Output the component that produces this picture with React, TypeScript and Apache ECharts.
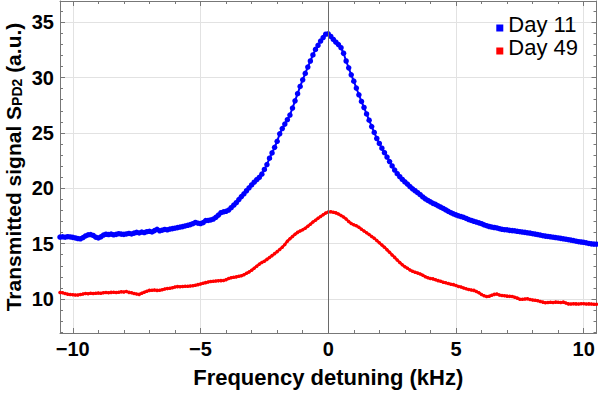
import React, { useEffect, useRef } from "react";
import * as echarts from "echarts";

// Sampling grid of the measurement (kHz)
const detuningStart = -10.5;
const detuningStep = 0.1;

// Day 11 transmitted signal (a.u.), one value per 0.1 kHz from -10.5 to 10.5
const day11: number[] = [
  15.60, 15.62, 15.58, 15.63, 15.61,
  15.57, 15.52, 15.46, 15.44, 15.55, 15.70, 15.80, 15.82, 15.74, 15.58,
  15.52, 15.62, 15.78, 15.85, 15.82, 15.86, 15.80, 15.84, 15.90, 15.86,
  15.84, 15.88, 15.92, 15.88, 15.95, 16.02, 15.97, 16.05, 16.00, 16.08,
  16.12, 16.06, 16.18, 16.30, 16.16, 16.22, 16.28, 16.25, 16.32, 16.36,
  16.40, 16.45, 16.50, 16.54, 16.60, 16.66, 16.72, 16.80, 16.92, 16.85,
  16.82, 16.90, 17.08, 17.10, 17.14, 17.22, 17.38, 17.58, 17.80, 17.88,
  17.92, 18.04, 18.25, 18.48, 18.70, 18.98, 19.25, 19.50, 19.78, 20.05,
  20.30, 20.55, 20.78, 20.98, 21.28, 21.70, 22.15, 22.72, 23.20, 23.70,
  24.25, 24.92, 25.40, 25.80, 26.20, 26.62, 27.25, 27.90, 28.55, 29.20,
  29.80, 30.38, 30.95, 31.50, 32.05, 32.55, 32.92, 33.30, 33.62, 33.92,
  33.95, 33.72, 33.45, 33.20, 32.98, 32.70, 32.20, 31.50, 30.88, 30.25,
  29.68, 29.05, 28.45, 27.85, 27.30, 26.72, 26.15, 25.58, 25.05, 24.50,
  24.05, 23.62, 23.22, 22.82, 22.42, 22.02, 21.65, 21.32, 21.05, 20.80,
  20.58, 20.38, 20.15, 19.95, 19.78, 19.60, 19.42, 19.22, 19.05, 18.90,
  18.78, 18.64, 18.55, 18.42, 18.30, 18.18, 18.05, 17.92, 17.80, 17.70,
  17.60, 17.52, 17.45, 17.38, 17.28, 17.18, 17.10, 17.02, 16.95, 16.88,
  16.80, 16.70, 16.62, 16.55, 16.50, 16.46, 16.42, 16.35, 16.30, 16.26,
  16.25, 16.20, 16.18, 16.16, 16.12, 16.08, 16.05, 16.02, 15.98, 15.95,
  15.90, 15.86, 15.82, 15.78, 15.72, 15.68, 15.65, 15.62, 15.58, 15.55,
  15.52, 15.48, 15.44, 15.40, 15.36, 15.32, 15.28, 15.22, 15.18, 15.15,
  15.12, 15.08, 15.02, 14.98, 14.96, 14.95,
];

// Day 49 transmitted signal (a.u.)
const day49: number[] = [
  10.58, 10.56, 10.50, 10.44, 10.40,
  10.38, 10.36, 10.37, 10.40, 10.46, 10.50, 10.48, 10.52, 10.50, 10.53,
  10.55, 10.52, 10.56, 10.58, 10.56, 10.60, 10.62, 10.58, 10.62, 10.66,
  10.64, 10.67, 10.60, 10.56, 10.50, 10.45, 10.42, 10.52, 10.62, 10.70,
  10.78, 10.80, 10.82, 10.78, 10.80, 10.84, 10.90, 10.94, 10.97, 11.02,
  11.08, 11.12, 11.10, 11.14, 11.16, 11.15, 11.18, 11.20, 11.24, 11.30,
  11.36, 11.42, 11.48, 11.54, 11.58, 11.60, 11.62, 11.64, 11.66, 11.68,
  11.75, 11.85, 11.92, 11.96, 12.00, 12.05, 12.10, 12.20, 12.32, 12.45,
  12.60, 12.78, 12.96, 13.15, 13.30, 13.42, 13.58, 13.75, 13.92, 14.10,
  14.28, 14.48, 14.68, 14.92, 15.22, 15.45, 15.65, 15.85, 16.02, 16.15,
  16.25, 16.40, 16.58, 16.76, 16.95, 17.12, 17.30, 17.46, 17.62, 17.76,
  17.86, 17.88, 17.84, 17.78, 17.68, 17.55, 17.40, 17.22, 17.00, 16.82,
  16.70, 16.62, 16.48, 16.30, 16.15, 15.98, 15.82, 15.65, 15.48, 15.28,
  15.08, 14.88, 14.68, 14.45, 14.22, 13.98, 13.76, 13.52, 13.30, 13.10,
  12.92, 12.78, 12.62, 12.50, 12.42, 12.34, 12.26, 12.15, 12.02, 11.92,
  11.86, 11.82, 11.74, 11.66, 11.60, 11.52, 11.46, 11.40, 11.34, 11.30,
  11.22, 11.14, 11.08, 11.00, 10.92, 10.85, 10.82, 10.78, 10.68, 10.56,
  10.40, 10.30, 10.22, 10.25, 10.34, 10.42, 10.45, 10.36, 10.32, 10.30,
  10.26, 10.24, 10.22, 10.16, 10.08, 9.98, 9.98, 10.00, 10.02, 9.96,
  9.92, 9.88, 9.85, 9.78, 9.72, 9.66, 9.68, 9.70, 9.68, 9.72,
  9.70, 9.68, 9.72, 9.64, 9.56, 9.54, 9.58, 9.56, 9.55, 9.58,
  9.57, 9.54, 9.56, 9.55, 9.52, 9.52,
];

const seriesNames = ["Day 11", "Day 49"];

// Axis ranges and ticks
const xRange = [-10.5, 10.5];
const yRange = [6.93, 36.92];
const xMajorTicks = [-10, -5, 0, 5, 10];
const xMinorTicks = [-9, -8, -7, -6, -4, -3, -2, -1, 1, 2, 3, 4, 6, 7, 8, 9];
const yMajorTicks = [10, 15, 20, 25, 30, 35];
const yMinorTicks = [7, 8, 9, 11, 12, 13, 14, 16, 17, 18, 19, 21, 22, 23, 24, 26, 27, 28, 29, 31, 32, 33, 34, 36];

const FONT = "'Liberation Sans', Arial, sans-serif";
const FRAME = "#777777";
const GRID = "#e2e2e2";

function toPairs(vals: number[]): [number, number][] {
  return vals.map((v, i) => [
    Math.round((detuningStart + i * detuningStep) * 100) / 100,
    v,
  ]);
}

function fmtNum(v: number): string {
  return (v < 0 ? "\u2212" : "") + String(Math.abs(v));
}

export default function App() {
  const ref = useRef<HTMLDivElement>(null);

  useEffect(() => {
    if (!ref.current) return;
    const chart = echarts.init(ref.current, undefined, { renderer: "svg" });

    const labelStyle = {
      fontSize: 20,
      fontWeight: "bold" as const,
      color: "#000",
      fontFamily: FONT,
    };

    const xAxisBase = (position: "bottom" | "top", major: boolean, main: boolean) => ({
      type: "value",
      position,
      min: xRange[0],
      max: xRange[1],
      axisLine: { show: major, onZero: false, lineStyle: { color: FRAME, width: 1 } },
      axisTick: {
        show: true,
        inside: true,
        length: major ? 5 : 3,
        customValues: major ? xMajorTicks : xMinorTicks,
        lineStyle: { color: FRAME, width: 1 },
      },
      axisLabel: main
        ? {
            show: true,
            customValues: xMajorTicks,
            formatter: (v: number) => fmtNum(v),
            margin: 6,
            ...labelStyle,
          }
        : { show: false },
      splitLine: main ? { show: true, lineStyle: { color: GRID, width: 1 } } : { show: false },
      ...(main
        ? {
            name: "Frequency detuning (kHz)",
            nameLocation: "middle",
            nameGap: 33,
            nameTextStyle: { fontSize: 22, fontWeight: "bold", color: "#000", fontFamily: FONT },
          }
        : {}),
    });

    const yAxisBase = (position: "left" | "right", major: boolean, main: boolean) => ({
      type: "value",
      position,
      min: yRange[0],
      max: yRange[1],
      axisLine: { show: major, onZero: false, lineStyle: { color: FRAME, width: 1 } },
      axisTick: {
        show: true,
        inside: true,
        length: major ? 5 : 3,
        customValues: major ? yMajorTicks : yMinorTicks,
        lineStyle: { color: FRAME, width: 1 },
      },
      axisLabel: main
        ? {
            show: true,
            customValues: yMajorTicks,
            formatter: (v: number) => fmtNum(v),
            margin: 6,
            ...labelStyle,
          }
        : { show: false },
      splitLine: main ? { show: true, lineStyle: { color: GRID, width: 1 } } : { show: false },
      ...(main
        ? {
            name: "Transmitted signal S{sub|PD2} (a.u.)",
            nameLocation: "middle",
            nameRotate: 90,
            nameGap: 36,
            nameMoveOverlap: false,
            nameTextStyle: {
              fontSize: 21,
              fontWeight: "bold",
              color: "#000",
              fontFamily: FONT,
              lineHeight: 22,
              rich: {
                sub: {
                  fontSize: 14,
                  fontWeight: "bold",
                  color: "#000",
                  fontFamily: FONT,
                  lineHeight: 18,
                  verticalAlign: "bottom",
                },
              },
            },
          }
        : {}),
    });

    chart.setOption({
      animation: false,
      backgroundColor: "#ffffff",
      grid: {
        left: 60,
        right: 1.5,
        top: 1,
        bottom: 62,
        containLabel: false,
        outerBoundsMode: "none",
      },
      legend: {
        data: seriesNames,
        orient: "vertical",
        right: 15,
        top: 8,
        itemWidth: 7,
        itemHeight: 15,
        itemGap: 1,
        icon: "path://M0 0h0.01v0.01H0zM0 8h7v7H0z",
        itemStyle: { borderWidth: 0 },
        textStyle: { fontSize: 22, color: "#000", fontFamily: FONT },
        selectedMode: false,
      },
      xAxis: [
        xAxisBase("bottom", true, true),
        xAxisBase("bottom", false, false),
        xAxisBase("top", true, false),
        xAxisBase("top", false, false),
      ],
      yAxis: [
        yAxisBase("left", true, true),
        yAxisBase("left", false, false),
        yAxisBase("right", true, false),
        yAxisBase("right", false, false),
      ],
      series: [
        {
          type: "line",
          name: "zero",
          data: [],
          z: 1,
          silent: true,
          markLine: {
            silent: true,
            symbol: ["none", "none"],
            label: { show: false },
            lineStyle: { color: "#6a6a6a", width: 1, type: "solid" },
            data: [{ xAxis: 0 }],
          },
        },
        {
          type: "line",
          name: seriesNames[0],
          data: toPairs(day11),
          color: "#0000ff",
          symbol: "circle",
          symbolSize: 5.5,
          showSymbol: true,
          lineStyle: { color: "#0000ff", width: 2 },
          itemStyle: { color: "#0000ff" },
          z: 3,
        },
        {
          type: "line",
          name: seriesNames[1],
          data: toPairs(day49),
          color: "#ff0000",
          symbol: "circle",
          symbolSize: 3.5,
          showSymbol: true,
          lineStyle: { color: "#ff0000", width: 2.5 },
          itemStyle: { color: "#ff0000" },
          z: 3,
        },
      ],
    });

    return () => chart.dispose();
  }, []);

  return (
    <div
      ref={ref}
      style={{ position: "absolute", left: 0, top: 0, width: 598, height: 395 }}
    />
  );
}
